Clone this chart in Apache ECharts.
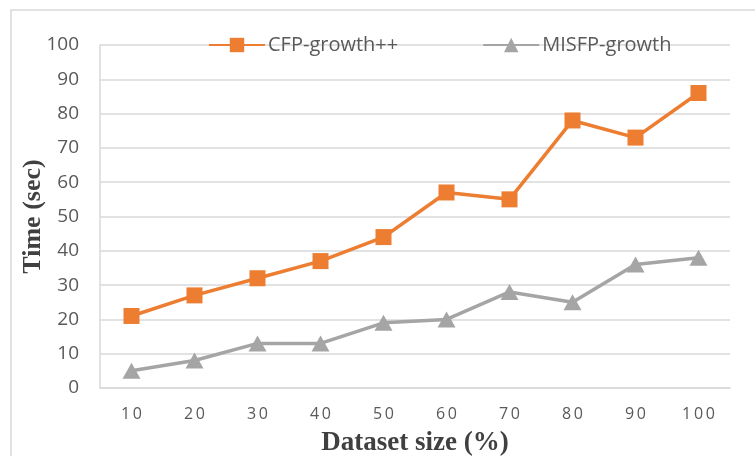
<!DOCTYPE html>
<html>
<head>
<meta charset="utf-8">
<script src="https://cdn.jsdelivr.net/npm/echarts@6/dist/echarts.min.js"></script>
<style>
  html, body { margin: 0; padding: 0; background: #fff; }
  #chart { width: 755px; height: 456px; }
</style>
</head>
<body>
<div id="chart"></div>
<script>
// Dataset size categories (%)
const categories = ['10', '20', '30', '40', '50', '60', '70', '80', '90', '100'];
// Run time in seconds
const cfpGrowthPP = [21, 27, 32, 37, 44, 57, 55, 78, 73, 86];
const misfpGrowth = [5, 8, 13, 13, 19, 20, 28, 25, 36, 38];
const yTicks = { min: 0, max: 100, interval: 10 };

const chart = echarts.init(document.getElementById('chart'), null, { renderer: 'canvas' });

const labelFont = '"Open Sans", "Liberation Sans", sans-serif';
const titleFont = '"Liberation Serif", "DejaVu Serif", serif';

chart.setOption({
  animation: false,
  backgroundColor: '#ffffff',
  graphic: [{
    type: 'rect',
    shape: { x: 11, y: 10, width: 760, height: 460 },
    style: { fill: 'none', stroke: '#d9d9d9', lineWidth: 1.5 },
    silent: true,
    z: -1
  }],
  grid: { left: 100, right: 25, top: 45, bottom: 68, outerBoundsMode: 'none', containLabel: false },
  legend: {
    left: 203,
    top: 30,
    itemWidth: 56,
    itemHeight: 18,
    itemGap: 84,
    textStyle: { fontFamily: labelFont, fontSize: 20, color: '#595959', padding: [0, 0, 0, -2] },
    data: ['CFP-growth++', 'MISFP-growth']
  },
  xAxis: {
    type: 'category',
    data: categories,
    boundaryGap: true,
    name: 'Dataset size (%)',
    nameLocation: 'middle',
    nameGap: 42,
    nameMoveOverlap: false,
    nameTextStyle: { fontFamily: titleFont, fontSize: 27, fontWeight: 'bold', color: '#404040' },
    axisLine: { show: true, lineStyle: { color: '#d9d9d9', width: 1.5 } },
    axisTick: { show: false },
    axisLabel: {
      margin: 18,
      fontFamily: labelFont,
      fontSize: 16,
      color: '#595959',
      formatter: v => v.split('').join('\u2009')
    }
  },
  yAxis: {
    type: 'value',
    min: yTicks.min,
    max: yTicks.max,
    interval: yTicks.interval,
    name: 'Time (sec)',
    nameLocation: 'middle',
    nameGap: 54,
    nameMoveOverlap: false,
    nameRotate: 90,
    nameTextStyle: { fontFamily: titleFont, fontSize: 26, fontWeight: 'bold', color: '#404040' },
    axisLine: { show: true, lineStyle: { color: '#d9d9d9', width: 1.5 } },
    axisTick: { show: false },
    axisLabel: { margin: 21, fontFamily: labelFont, fontSize: 19, color: '#595959' },
    splitLine: { show: true, lineStyle: { color: '#d9d9d9', width: 1.5 } }
  },
  series: [
    {
      name: 'CFP-growth++',
      type: 'line',
      data: cfpGrowthPP,
      symbol: 'rect',
      symbolSize: 16,
      color: '#ED7D31',
      lineStyle: { color: '#ED7D31', width: 3.5 },
      itemStyle: { color: '#ED7D31' },
      z: 3
    },
    {
      name: 'MISFP-growth',
      type: 'line',
      data: misfpGrowth,
      symbol: 'triangle',
      symbolSize: [18, 16],
      color: '#A5A5A5',
      lineStyle: { color: '#A5A5A5', width: 3.5 },
      itemStyle: { color: '#A5A5A5' },
      z: 2
    }
  ]
});
</script>
</body>
</html>
